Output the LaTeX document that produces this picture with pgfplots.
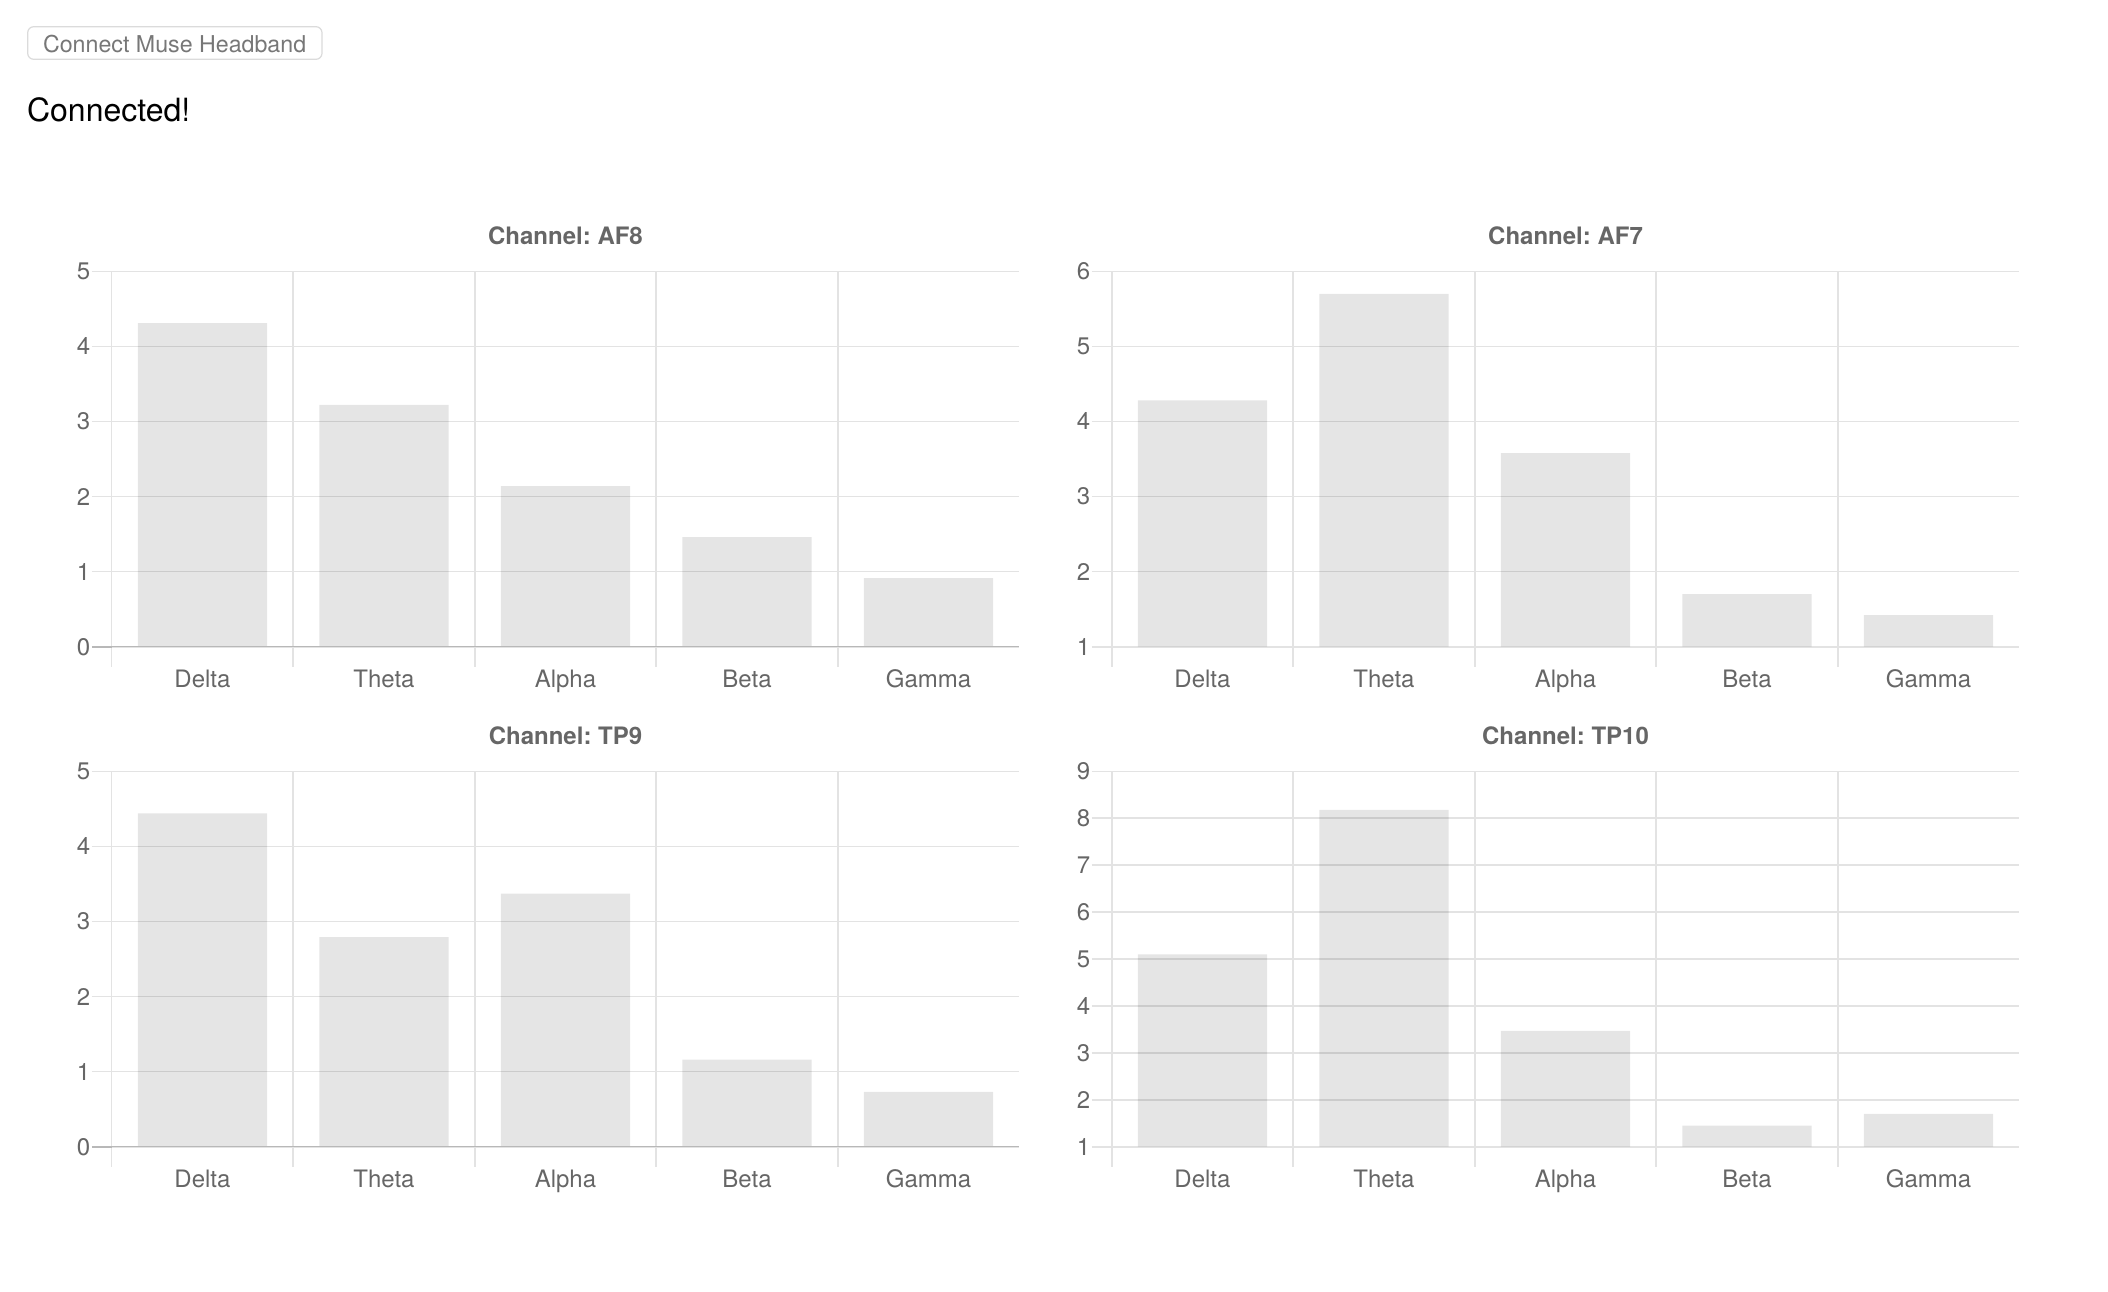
\documentclass[border=0pt]{standalone}
\usepackage{fontspec}
\setmainfont{TeX Gyre Heros}
\usepackage{pgfplots}
\pgfplotsset{compat=1.18}
\frenchspacing
\definecolor{txt}{HTML}{666666}
\definecolor{btxt}{HTML}{777777}
\pgfplotsset{
  chan/.style={
    scale only axis, width=453.8bp, height=187.7bp,
    xmin=-0.5, xmax=4.5,
    ybar, bar width=64.65bp,
    xtick={-0.5,0.5,1.5,2.5,3.5},
    xticklabels={},
    extra x ticks={0,1,2,3,4},
    extra x tick labels={Delta,Theta,Alpha,Beta,Gamma},
    extra x tick style={major tick length=0pt, grid=none},
    xtick pos=bottom, ytick pos=left,
    xmajorgrids, ymajorgrids,
    axis line style={draw=none},
    tick align=outside,
    major tick length=10bp,
    tick style={black!11, line width=0.8bp},
    grid style={black!11, line width=0.8bp},
    ticklabel style={font=\fontsize{12bp}{14bp}\selectfont, text=txt},
    /pgf/number format/assume math mode=true,
    xticklabel style={anchor=base, inner sep=0pt, yshift=-20.3bp},
    yticklabel style={anchor=east, inner sep=0pt, xshift=-0.5bp},
    clip=true,
  },
  barsty/.style={fill=black, fill opacity=0.1, draw=none},
}
\tikzset{ctitle/.style={anchor=base, inner sep=0pt, text=txt,
   font=\fontsize{12bp}{14bp}\selectfont\bfseries, yshift=13.5bp}}
\begin{document}
\begin{tikzpicture}
\path[use as bounding box] (0,0) rectangle (1054bp,-646bp);
% header
\draw[rounded corners=3bp, draw=black!14, line width=0.6bp, fill=white] (13.85bp,-13.35bp) rectangle (161bp,-29.65bp);
\node[anchor=base west, inner sep=0pt, text=btxt, font=\fontsize{11.6bp}{13bp}\selectfont] at (21.35bp,-26.2bp) {Connect Muse Headband};
\node[anchor=base west, inner sep=0pt, text=black, font=\fontsize{16bp}{19bp}\selectfont] at (13.35bp,-60.85bp) {Connected!};

% AF8
\begin{axis}[chan, name=af8, at={(55.85bp,-323.35bp)}, anchor=south west,
  ymin=0, ymax=5, ytick={0,1,2,3,4,5}]
\addplot[barsty] coordinates {(0,4.31) (1,3.22) (2,2.14) (3,1.46) (4,0.915)};
\draw[black!28, line width=0.8bp] (axis cs:-0.5,0) -- (axis cs:4.5,0);
\end{axis}
\draw[black!28, line width=0.8bp] (af8.south west) -- ++(-10bp,0);
\node[ctitle] at (af8.north) {Channel: AF8};

% AF7
\begin{axis}[chan, name=af7, at={(555.85bp,-323.35bp)}, anchor=south west,
  ymin=1, ymax=6, ytick={1,2,3,4,5,6}]
\addplot[barsty] coordinates {(0,4.28) (1,5.70) (2,3.58) (3,1.70) (4,1.42)};
\end{axis}
\node[ctitle] at (af7.north) {Channel: AF7};

% TP9
\begin{axis}[chan, name=tp9, at={(55.85bp,-573.35bp)}, anchor=south west,
  ymin=0, ymax=5, ytick={0,1,2,3,4,5}]
\addplot[barsty] coordinates {(0,4.44) (1,2.79) (2,3.37) (3,1.16) (4,0.73)};
\draw[black!28, line width=0.8bp] (axis cs:-0.5,0) -- (axis cs:4.5,0);
\end{axis}
\draw[black!28, line width=0.8bp] (tp9.south west) -- ++(-10bp,0);
\node[ctitle] at (tp9.north) {Channel: TP9};

% TP10
\begin{axis}[chan, name=tp10, at={(555.85bp,-573.35bp)}, anchor=south west,
  ymin=1, ymax=9, ytick={1,2,3,4,5,6,7,8,9}]
\addplot[barsty] coordinates {(0,5.10) (1,8.18) (2,3.47) (3,1.45) (4,1.70)};
\end{axis}
\node[ctitle] at (tp10.north) {Channel: TP10};
\end{tikzpicture}
\end{document}
